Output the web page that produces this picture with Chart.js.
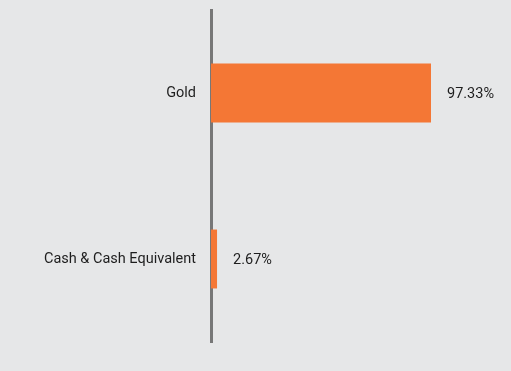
<!DOCTYPE html>
<html>
<head>
<meta charset="utf-8">
<script src="https://cdn.jsdelivr.net/npm/chart.js@4/dist/chart.umd.min.js"></script>
<style>
  html, body { margin: 0; padding: 0; background: #e6e7e8; }
  #wrap { width: 511px; height: 371px; position: relative; }
</style>
</head>
<body>
<div id="wrap"><canvas id="c" width="511" height="371"></canvas></div>
<script>
const categories = ["Gold", "Cash & Cash Equivalent"];
const values = [97.33, 2.67];
const valueLabels = ["97.33%", "2.67%"];

const valueLabelPlugin = {
  id: 'valueLabels',
  afterDatasetsDraw(chart) {
    const ctx = chart.ctx;
    const meta = chart.getDatasetMeta(0);
    ctx.save();
    ctx.font = '14.5px Roboto';
    ctx.fillStyle = '#1e1e1e';
    ctx.textAlign = 'left';
    ctx.textBaseline = 'middle';
    meta.data.forEach((bar, i) => {
      ctx.fillText(valueLabels[i], bar.x + 16, bar.y + 1);
    });
    ctx.restore();
  }
};

new Chart(document.getElementById('c'), {
  type: 'bar',
  data: {
    labels: categories,
    datasets: [{
      data: values,
      backgroundColor: '#f47735',
      borderWidth: 0,
      categoryPercentage: 0.71,
      barPercentage: 0.5
    }]
  },
  options: {
    indexAxis: 'y',
    responsive: false,
    animation: false,
    layout: { padding: { top: 10, bottom: 29, left: 0, right: 10 } },
    plugins: { legend: { display: false }, tooltip: { enabled: false } },
    scales: {
      x: {
        display: false,
        min: 0,
        max: 128.3
      },
      y: {
        afterFit(s) { s.width = 211; s.paddingTop = 0; s.paddingBottom = 0; },
        grid: { display: false, drawTicks: false },
        border: { display: true, color: '#777777', width: 3 },
        ticks: {
          padding: 15,
          color: '#1e1e1e',
          font: { family: 'Roboto', size: 14.5 }
        }
      }
    }
  },
  plugins: [valueLabelPlugin]
});
</script>
</body>
</html>
